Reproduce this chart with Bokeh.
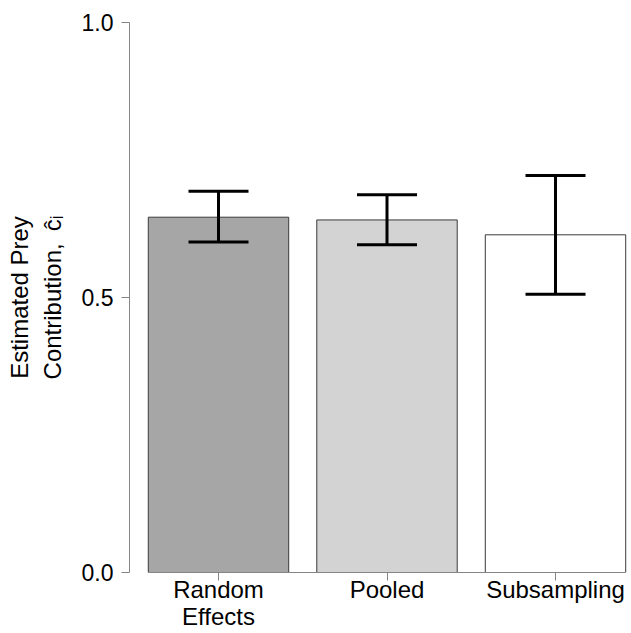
from bokeh.plotting import figure
from bokeh.models import Range1d, FixedTicker, Whisker, TeeHead, ColumnDataSource
from bokeh.embed import file_html
from bokeh.resources import INLINE

# ---- data ----
categories = ["Random\nEffects", "Pooled", "Subsampling"]
estimate = [0.646, 0.641, 0.614]
lower = [0.601, 0.596, 0.506]
upper = [0.693, 0.687, 0.722]
fills = ["#a6a6a6", "#d3d3d3", "#ffffff"]
y_ticks = [0.0, 0.5, 1.0]
y_tick_labels = ["0.0", "0.5", "1.0"]
y_title = "Estimated Prey\nContribution,\u2002\u0109\u1d62"

xpos = [i + 1 for i in range(len(categories))]

FONT = "Liberation Sans"
W, H = 631, 633
FL, FT = 129, 22
FB = H - 572
PX_PER_X = 168.5
frame_w = W - FL
x0 = 1 - (218 - FL) / PX_PER_X
x1 = x0 + frame_w / PX_PER_X

p = figure(width=W, height=H, output_backend="svg", toolbar_location=None,
           x_range=Range1d(x0, x1), y_range=Range1d(0, 1),
           min_border_left=FL, min_border_top=FT, min_border_bottom=FB,
           min_border_right=0)
p.outline_line_color = None
p.grid.visible = False

src = ColumnDataSource(dict(x=xpos, top=estimate, lower=lower, upper=upper,
                            fill=fills))
bw = 1 / 1.2
p.vbar(x="x", top="top", bottom=0, width=bw, source=src, fill_color="fill",
       line_color="#3a3a3a", line_width=1)

p.add_layout(Whisker(base="x", upper="upper", lower="lower", source=src,
                     level="overlay", line_color="black", line_width=3,
                     upper_head=TeeHead(size=60, line_color="black", line_width=3),
                     lower_head=TeeHead(size=60, line_color="black", line_width=3)))

# y axis
ax = p.yaxis[0]
ax.ticker = FixedTicker(ticks=y_ticks)
ax.major_label_overrides = {t: l for t, l in zip(y_ticks, y_tick_labels)}
ax.bounds = (0, 1)
ax.axis_line_color = "#858585"
ax.major_tick_line_color = "#858585"
ax.major_tick_out = 8
ax.major_tick_in = 0
ax.minor_tick_out = 0
ax.minor_tick_in = 0
ax.major_label_standoff = 8
ax.major_label_text_font = FONT
ax.major_label_text_font_size = "23px"
ax.major_label_text_color = "black"
ax.axis_label = y_title
ax.axis_label_text_font = FONT
ax.axis_label_text_font_size = "24px"
ax.axis_label_text_font_style = "normal"
ax.axis_label_text_color = "black"
ax.axis_label_standoff = 13

# x axis
bx = p.xaxis[0]
bx.ticker = FixedTicker(ticks=xpos)
bx.major_label_overrides = {x: c for x, c in zip(xpos, categories)}
bx.bounds = (xpos[0] - bw / 2, xpos[-1] + bw / 2)
bx.axis_line_color = "#858585"
bx.major_tick_line_color = "#858585"
bx.major_tick_out = 8
bx.major_tick_in = 0
bx.minor_tick_out = 0
bx.minor_tick_in = 0
bx.major_label_standoff = -5
bx.major_label_text_font = FONT
bx.major_label_text_font_size = "24px"
bx.major_label_text_color = "black"
bx.major_label_text_line_height = 1.0

open("out.html", "w").write(file_html(p, INLINE))
